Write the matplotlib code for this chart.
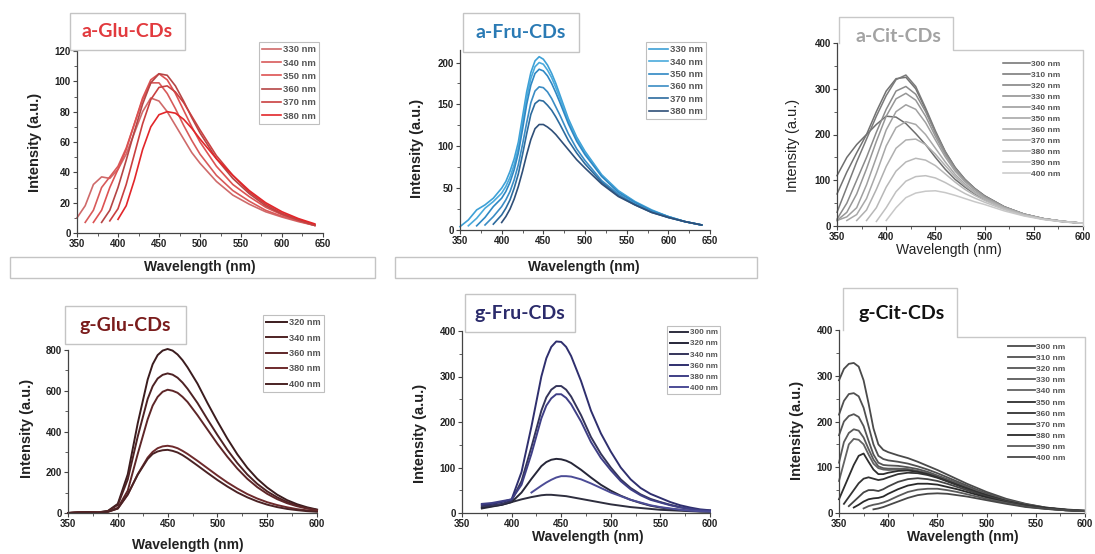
import numpy as np
import matplotlib
matplotlib.use("Agg")
import matplotlib.pyplot as plt
from matplotlib.patches import Rectangle
from matplotlib.lines import Line2D
from matplotlib.ticker import MultipleLocator, AutoMinorLocator

nan = np.nan

# ---------------- data ----------------
# a-Glu-CDs
aglu_ex = ["330 nm", "340 nm", "350 nm", "360 nm", "370 nm", "380 nm"]
aglu_wl = [350, 360, 370, 380, 390, 400, 410, 420, 430, 440, 450, 460, 470, 480, 490, 500, 520, 540, 560, 580, 600, 620, 640]
aglu_int = [
    [10, 18, 32, 37, 36, 42, 52, 66, 80, 89, 87, 80, 71, 62, 53, 46, 34, 25, 19, 14, 10.5, 7.5, 5],
    [nan, 7, 15, 30, 37, 44, 56, 72, 88, 99, 99, 92, 82, 71, 61, 52, 38, 28, 21, 15, 11, 8, 5],
    [nan, nan, 7, 15, 30, 42, 55, 72, 89, 101, 105, 101, 92, 81, 70, 60, 44, 32, 24, 17, 12, 8, 5],
    [nan, nan, nan, 7, 15, 30, 48, 67, 85, 99, 105, 104, 97, 87, 76, 66, 49, 36, 26, 18, 12.5, 8.5, 5],
    [nan, nan, nan, nan, 8, 16, 32, 52, 72, 88, 96, 97, 93, 86, 77, 68, 51, 38, 27, 19, 13, 9, 5.5],
    [nan, nan, nan, nan, nan, 9, 18, 35, 55, 70, 78, 80, 79, 75, 69, 62, 49, 38, 28, 20, 14, 9.5, 6],
]

# a-Fru-CDs
afru_ex = ["330 nm", "340 nm", "350 nm", "360 nm", "370 nm", "380 nm"]
afru_wl = [350, 360, 370, 380, 390, 400, 405, 410, 415, 420, 425, 430, 435, 440, 445, 450, 455, 460, 465, 470,
           480, 490, 500, 520, 540, 560, 580, 600, 620, 640]
afru_int = [
    [4, 12, 24, 30, 38, 50, 58, 70, 85, 105, 135, 165, 188, 202, 207, 204, 197, 187, 175, 161, 133, 111, 94, 66, 47, 34, 24, 16, 10, 6],
    [nan, 5, 14, 26, 34, 44, 52, 63, 78, 98, 127, 158, 181, 195, 200, 198, 191, 182, 170, 157, 130, 109, 92, 65, 46, 33, 23, 16, 10, 6],
    [nan, nan, 5, 15, 28, 38, 46, 57, 72, 92, 120, 150, 173, 187, 192, 190, 184, 175, 164, 152, 127, 106, 90, 64, 45, 33, 23, 16, 10, 6],
    [nan, nan, nan, 6, 16, 28, 36, 46, 60, 78, 102, 128, 152, 166, 171, 170, 165, 157, 147, 137, 115, 97, 83, 59, 43, 31, 22, 15, 10, 6],
    [nan, nan, nan, nan, 7, 18, 26, 36, 50, 67, 90, 115, 138, 151, 155, 154, 149, 143, 135, 126, 107, 92, 79, 57, 41, 30, 21, 15, 10, 6],
    [nan, nan, nan, nan, nan, 9, 16, 25, 37, 52, 70, 90, 108, 121, 126, 126, 123, 119, 114, 108, 96, 84, 74, 55, 40, 30, 21, 15, 10, 6],
]

# a-Cit-CDs
acit_ex = ["300 nm", "310 nm", "320 nm", "330 nm", "340 nm", "350 nm",
           "360 nm", "370 nm", "380 nm", "390 nm", "400 nm"]
acit_wl = [350, 360, 370, 380, 390, 400, 410, 420, 430, 440, 450, 460, 470, 480, 490, 500, 520, 540, 560, 580, 600]
acit_int = [
    [110, 150, 178, 200, 222, 240, 238, 224, 202, 178, 150, 124, 102, 85, 70, 58, 38, 24, 15, 9, 6],
    [70, 118, 160, 200, 250, 295, 322, 325, 300, 255, 205, 162, 128, 102, 82, 66, 42, 26, 16, 10, 6],
    [30, 85, 140, 190, 240, 285, 320, 330, 305, 258, 208, 163, 128, 102, 82, 66, 42, 26, 16, 10, 6],
    [15, 50, 100, 150, 205, 255, 295, 305, 288, 250, 203, 160, 126, 101, 81, 65, 42, 26, 16, 10, 6],
    [12, 30, 70, 125, 185, 240, 278, 290, 275, 240, 196, 156, 124, 99, 80, 64, 41, 26, 16, 10, 6],
    [12, 20, 40, 90, 150, 210, 250, 265, 255, 226, 188, 151, 120, 97, 79, 63, 41, 26, 16, 10, 6],
    [nan, 12, 25, 60, 115, 175, 215, 228, 222, 200, 170, 140, 113, 92, 75, 61, 40, 25, 16, 10, 6],
    [nan, nan, 12, 35, 80, 130, 170, 188, 190, 178, 157, 132, 108, 88, 72, 59, 39, 25, 15, 10, 6],
    [nan, nan, nan, 12, 40, 85, 120, 140, 148, 144, 132, 114, 96, 80, 67, 56, 38, 24, 15, 10, 6],
    [nan, nan, nan, nan, 10, 40, 75, 98, 108, 110, 105, 95, 83, 71, 61, 52, 36, 23, 15, 10, 6],
    [nan, nan, nan, nan, nan, 12, 40, 62, 72, 76, 77, 73, 67, 60, 53, 47, 33, 22, 14, 9, 6],
]

# g-Glu-CDs
gglu_ex = ["320 nm", "340 nm", "360 nm", "380 nm", "400 nm"]
gglu_wl = [350, 360, 370, 380, 390, 400, 410, 420, 430, 435, 440, 445, 450, 455, 460, 465, 470, 480, 490, 500,
           510, 520, 530, 540, 550, 560, 570, 580, 590, 600]
gglu_int = [
    [0, 3, 5, 3, 10, 45, 190, 440, 655, 730, 775, 797, 805, 797, 778, 750, 715, 635, 540, 450, 365, 288, 222, 168, 125, 90, 63, 43, 28, 17],
    [0, 3, 5, 3, 9, 40, 165, 375, 560, 622, 660, 678, 685, 679, 664, 640, 610, 540, 460, 383, 310, 245, 189, 143, 106, 77, 54, 37, 24, 15],
    [0, 3, 5, 3, 7, 25, 110, 290, 460, 527, 570, 595, 605, 600, 590, 570, 545, 480, 410, 340, 276, 218, 168, 127, 94, 68, 48, 33, 22, 14],
    [0, 2, 4, 2, 6, 22, 90, 190, 272, 300, 318, 327, 330, 326, 318, 305, 290, 256, 220, 184, 150, 120, 93, 71, 53, 39, 28, 19, 13, 9],
    [0, 2, 4, 2, 6, 22, 92, 188, 265, 290, 302, 308, 310, 305, 297, 284, 268, 233, 197, 162, 130, 101, 77, 57, 41, 29, 20, 14, 9, 6],
]

# g-Fru-CDs
gfru_ex = ["300 nm", "320 nm", "340 nm", "360 nm", "380 nm", "400 nm"]
gfru_wl = [370, 380, 390, 400, 410, 420, 430, 435, 440, 445, 450, 455, 460, 470, 480, 490, 500,
           510, 520, 530, 540, 550, 560, 570, 580, 590, 600]
gfru_int = [
    [10, 14, 18, 24, 30, 35, 39, 40, 40, 39, 38, 37, 35, 31, 27, 23, 19, 16, 13, 11, 9, 7, 6, 5, 4, 3, 3],
    [12, 15, 18, 24, 45, 75, 103, 112, 117, 119, 118, 115, 110, 95, 78, 62, 49, 38, 29, 22, 16, 12, 9, 7, 5, 4, 3],
    [15, 17, 20, 27, 70, 145, 225, 254, 271, 279, 279, 271, 256, 215, 167, 130, 100, 74, 55, 41, 31, 24, 18, 13, 9, 6, 5],
    [18, 20, 24, 30, 90, 190, 300, 340, 365, 377, 376, 365, 345, 290, 225, 175, 135, 100, 74, 55, 42, 33, 24, 17, 12, 8, 6],
    [20, 22, 26, 30, 62, 130, 208, 236, 252, 261, 261, 253, 239, 201, 156, 121, 94, 70, 52, 39, 29, 23, 17, 12, 9, 6, 5],
    [nan, nan, nan, nan, nan, 45, 60, 67, 73, 78, 81, 81, 80, 74, 65, 55, 45, 37, 29, 23, 17, 13, 10, 7, 5, 4, 3],
]

# g-Cit-CDs
gcit_ex = ["300 nm", "310 nm", "320 nm", "330 nm", "340 nm", "350 nm",
           "360 nm", "370 nm", "380 nm", "390 nm", "400 nm"]
gcit_wl = [350, 355, 360, 365, 370, 375, 380, 385, 390, 395, 400, 410, 420, 430, 440, 450,
           460, 470, 480, 490, 500, 520, 540, 560, 580, 600]
gcit_int = [
    [290, 315, 326, 328, 320, 290, 240, 185, 150, 138, 133, 126, 120, 112, 103, 94, 84, 74, 64, 55, 46, 31, 20, 12, 8, 5],
    [215, 245, 260, 262, 255, 230, 190, 150, 125, 118, 115, 112, 108, 102, 95, 87, 78, 69, 60, 51, 43, 29, 19, 12, 7, 5],
    [170, 200, 212, 216, 210, 190, 158, 128, 110, 105, 104, 103, 100, 96, 90, 82, 74, 66, 57, 49, 41, 28, 18, 11, 7, 5],
    [110, 155, 175, 183, 180, 165, 140, 117, 102, 98, 97, 97, 96, 92, 87, 80, 72, 64, 56, 48, 40, 27, 18, 11, 7, 5],
    [70, 110, 150, 162, 160, 150, 128, 108, 98, 95, 94, 95, 94, 91, 86, 79, 71, 63, 55, 47, 39, 27, 17, 11, 7, 4],
    [30, 55, 80, 105, 125, 130, 112, 95, 85, 85, 88, 92, 93, 90, 85, 78, 70, 62, 54, 46, 39, 26, 17, 11, 7, 4],
    [nan, 20, 35, 50, 65, 75, 78, 75, 72, 74, 78, 85, 88, 87, 83, 77, 69, 61, 53, 45, 38, 26, 17, 11, 7, 4],
    [nan, nan, 15, 25, 35, 45, 50, 50, 48, 52, 58, 68, 74, 76, 74, 70, 64, 57, 50, 43, 36, 25, 16, 10, 6, 4],
    [nan, nan, nan, 12, 18, 25, 30, 32, 33, 36, 42, 52, 60, 64, 64, 62, 57, 52, 46, 40, 34, 23, 15, 10, 6, 4],
    [nan, nan, nan, nan, nan, 10, 15, 18, 20, 23, 27, 37, 46, 51, 53, 53, 50, 46, 41, 36, 31, 22, 14, 9, 6, 4],
    [nan, nan, nan, nan, nan, nan, nan, 8, 10, 13, 17, 25, 33, 39, 42, 43, 42, 39, 36, 32, 28, 20, 13, 9, 6, 4],
]

# ---------------- figure ----------------
W, H = 1095, 554
fig = plt.figure(figsize=(W / 100, H / 100), dpi=100)
fig.patch.set_facecolor("white")

LAB_FONT = "Liberation Sans"
TITLE_FONT = "Lato"


def fx(x):
    return x / W


def fy(y):
    return 1 - y / H


def add_ax(left, right, top, bottom):
    return fig.add_axes([fx(left), fy(bottom), (right - left) / W, (bottom - top) / H])


def box(x0, y0, x1, y1, ec="#c4c4c4"):
    fig.add_artist(Rectangle((fx(x0), fy(y1)), (x1 - x0) / W, (y1 - y0) / H,
                             transform=fig.transFigure, fill=False, ec=ec, lw=1.0))


def style(ax, xlim, ylim, xstep, ystep, bold=True):
    ax.set_xlim(*xlim)
    ax.set_ylim(*ylim)
    ax.xaxis.set_major_locator(MultipleLocator(xstep))
    ax.yaxis.set_major_locator(MultipleLocator(ystep))
    ax.xaxis.set_minor_locator(AutoMinorLocator(2))
    ax.yaxis.set_minor_locator(AutoMinorLocator(2))
    for s in ["top", "right"]:
        ax.spines[s].set_visible(False)
    for s in ["left", "bottom"]:
        ax.spines[s].set_color("#444444")
        ax.spines[s].set_linewidth(0.9)
    ax.tick_params(which="major", direction="out", length=3, width=0.8, colors="#444444",
                   labelsize=7, labelcolor="#222222", pad=1.5)
    ax.tick_params(which="minor", direction="out", length=2, width=0.6, colors="#444444")
    for lb in ax.get_xticklabels() + ax.get_yticklabels():
        lb.set_fontfamily(LAB_FONT)
        lb.set_fontweight("bold" if bold else "normal")
    ax.patch.set_alpha(0)


def curves(ax, wl, rows, labels, colors, lw=1.2):
    for row, lab, c in zip(rows, labels, colors):
        ax.plot(wl, row, color=c, lw=lw, label=lab, clip_on=False, solid_joinstyle="round")


def legend(ax, x, y, frame, spacing, fs=6.3, hl=2.3):
    lg = ax.legend(loc="upper left", bbox_to_anchor=(fx(x), fy(y)), bbox_transform=fig.transFigure,
                   frameon=frame, fancybox=False, edgecolor="#b0b0b0", fontsize=fs,
                   handlelength=hl, handletextpad=0.15, labelspacing=spacing,
                   borderpad=0.35, borderaxespad=0)
    for t in lg.get_texts():
        t.set_color("#555555")
        t.set_fontweight("bold")
        t.set_fontfamily(LAB_FONT)
    lg.get_frame().set_linewidth(0.8)
    return lg


def ylab(x, y, bold=True):
    fig.text(fx(x), fy(y), "Intensity (a.u.)", rotation=90, ha="center", va="center",
             fontsize=10.5, fontweight="bold" if bold else "normal", family=LAB_FONT, color="#222222")


def xlab(x, y, bold=True):
    fig.text(fx(x), fy(y), "Wavelength (nm)", ha="center", va="center",
             fontsize=10, fontweight="bold" if bold else "normal", family=LAB_FONT, color="#222222")


def title(x0, y0, x1, y1, text, color, tx=None, ty=None):
    box(x0, y0, x1, y1)
    tx = (x0 + x1) / 2 if tx is None else tx
    ty = (y0 + y1) / 2 if ty is None else ty
    fig.text(fx(tx), fy(ty), text, ha="center", va="center", fontsize=14,
             fontweight="bold", family=TITLE_FONT, color=color)


# ---- a-Glu ----
ax1 = add_ax(77, 323, 51, 233)
curves(ax1, aglu_wl, aglu_int, aglu_ex,
       ["#cf6a6a", "#d85a5a", "#dd5252", "#b54545", "#c94040", "#e2262a"])
style(ax1, (350, 650), (0, 120), 50, 20)
legend(ax1, 259, 42, True, 0.45, fs=6.8, hl=2.0)
title(70, 13, 185, 50, "a-Glu-CDs", "#e23a3e")
box(10, 257, 375, 278)
xlab(200, 267)
ylab(35, 142)

# ---- a-Fru ----
ax2 = add_ax(460, 710, 50, 230)
curves(ax2, afru_wl, afru_int, afru_ex,
       ["#3da0d6", "#4aaadc", "#2f88c4", "#3a8cc4", "#2c6b9e", "#2f4f78"])
style(ax2, (350, 650), (0, 215), 50, 50)
legend(ax2, 646, 42, True, 0.35, fs=6.8, hl=2.0)
title(463, 13, 579, 52, "a-Fru-CDs", "#2a7ab4")
box(395, 257, 757, 278)
xlab(584, 267)
ylab(417, 148)

# ---- a-Cit ----
ax3 = add_ax(837, 1083, 43, 226)
acit_cols = ["#6e6e6e", "#727272", "#7a7a7a", "#8a8a8a", "#969696", "#a0a0a0",
             "#a8a8a8", "#b0b0b0", "#b8b8b8", "#c0c0c0", "#c8c8c8"]
curves(ax3, acit_wl, acit_int, acit_ex, acit_cols, lw=1.1)
style(ax3, (350, 600), (0, 400), 50, 100)
legend(ax3, 1000, 57, False, 0.38, fs=6.0, hl=3.2)
fig.add_artist(Line2D([fx(839), fx(839), fx(953), fx(953), fx(1083), fx(1083)],
                      [fy(43), fy(17), fy(17), fy(50), fy(50), fy(226)],
                      transform=fig.transFigure, color="#c8c8c8", lw=1.0))
fig.text(fx(898), fy(37), "a-Cit-CDs", ha="center", va="center", fontsize=14,
         fontweight="bold", family=TITLE_FONT, color="#a3a3a3")
xlab(949, 250, bold=False)
ylab(793, 145, bold=False)

# ---- g-Glu ----
ax4 = add_ax(68, 317, 350, 513)
curves(ax4, gglu_wl, gglu_int, gglu_ex,
       ["#3b1c1e", "#4e2224", "#5e2628", "#6e2a2c", "#4a2224"], lw=1.4)
style(ax4, (350, 600), (0, 800), 50, 200)
legend(ax4, 263, 315, True, 0.7, fs=6.6)
title(65, 306, 186, 344, "g-Glu-CDs", "#7a1c1c")
xlab(188, 545)
ylab(27, 428)

# ---- g-Fru ----
ax5 = add_ax(462, 710, 331, 513)
curves(ax5, gfru_wl, gfru_int, gfru_ex,
       ["#2e2e3e", "#262638", "#34345a", "#2f2f6e", "#3f3f86", "#4c4c96"], lw=1.4)
style(ax5, (350, 600), (0, 400), 50, 100)
legend(ax5, 667, 326, True, 0.42, fs=5.8)
title(465, 294, 575, 332, "g-Fru-CDs", "#2b2b6b")
xlab(588, 537)
ylab(420, 433)

# ---- g-Cit ----
ax6 = add_ax(839, 1085, 330, 513)
gcit_cols = ["#4a4a4a", "#505050", "#555555", "#5a5a5a", "#626262", "#2e2e2e",
             "#333333", "#444444", "#2a2a2a", "#5a5a5a", "#484848"]
curves(ax6, gcit_wl, gcit_int, gcit_ex, gcit_cols, lw=1.3)
style(ax6, (350, 600), (0, 400), 50, 100)
legend(ax6, 1005, 340, False, 0.4, fs=6.0, hl=3.2)
fig.add_artist(Line2D([fx(843), fx(843), fx(957), fx(957), fx(1085), fx(1085)],
                      [fy(330), fy(288), fy(288), fy(337), fy(337), fy(513)],
                      transform=fig.transFigure, color="#c8c8c8", lw=1.0))
fig.text(fx(902), fy(313), "g-Cit-CDs", ha="center", va="center", fontsize=14,
         fontweight="bold", family=TITLE_FONT, color="#111111")
xlab(963, 537)
ylab(797, 430)

fig.savefig("out.png", dpi=100)
